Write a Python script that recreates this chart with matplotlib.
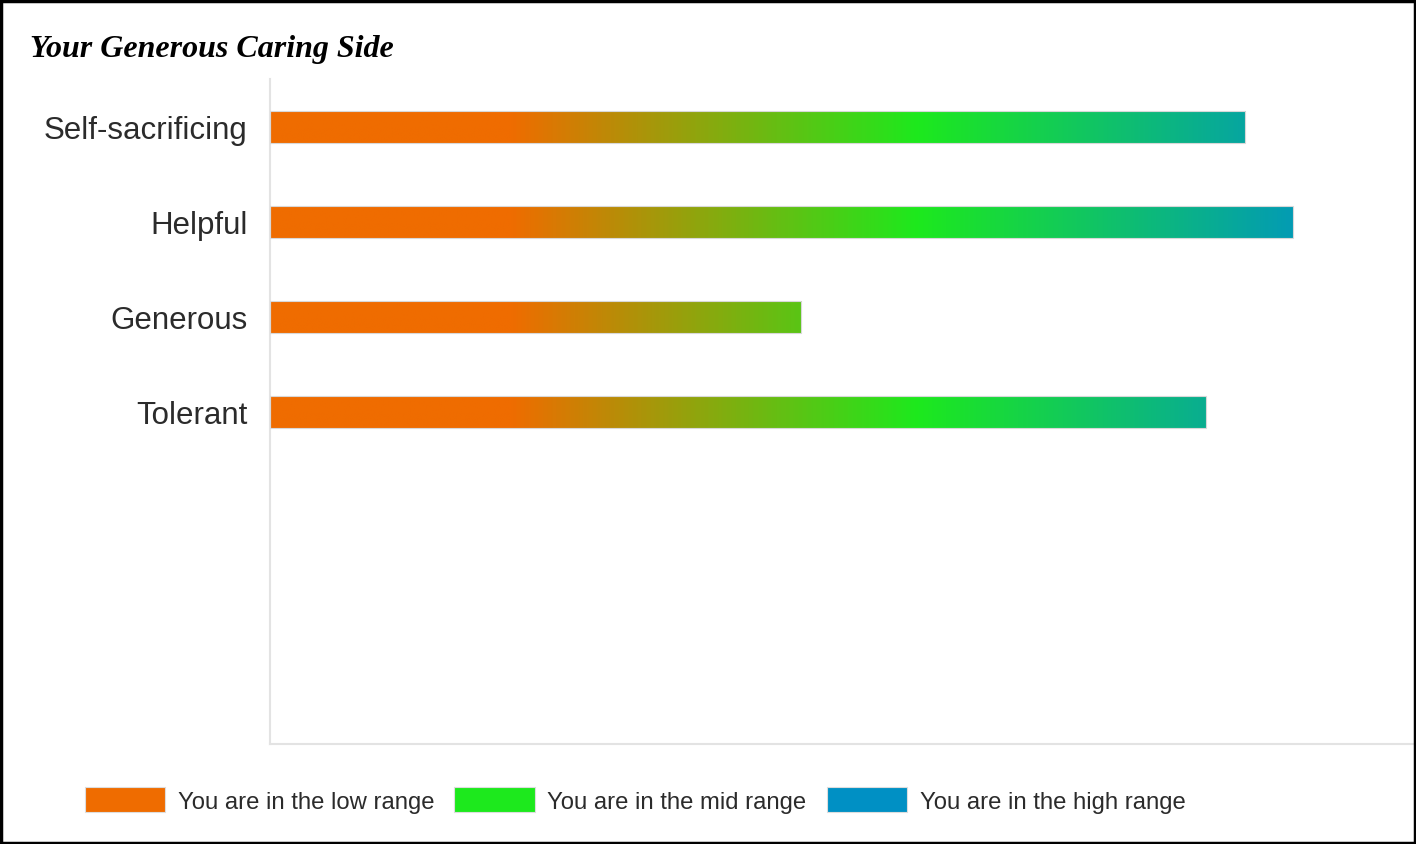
import matplotlib
matplotlib.use('Agg')
import matplotlib.pyplot as plt
import numpy as np
from matplotlib.colors import LinearSegmentedColormap
from matplotlib.patches import Patch, Rectangle

# data
traits = ['Self-sacrificing', 'Helpful', 'Generous', 'Tolerant']
scores = [86.3, 90.5, 47.0, 82.8]
legend_labels = ['You are in the low range', 'You are in the mid range', 'You are in the high range']
legend_colors = ['#ef6c00', '#1de91d', '#0090c4']

x_max = 101.4
n_slots = 7

cmap = LinearSegmentedColormap.from_list('range', [
    (0.0, '#ef6c00'), (0.21, '#ef6c00'), (0.565, '#1de91d'),
    (0.93, '#0093c4'), (1.0, '#0090c8')])

plt.rcParams['font.family'] = ['Liberation Sans', 'DejaVu Sans']

fig = plt.figure(figsize=(14.16, 8.45), dpi=100)
ax = fig.add_axes([270 / 1416, 1 - 745 / 845, 1 - 270 / 1416, 665 / 845])

gradient = np.linspace(0, 1, 512).reshape(1, -1)
bar_h = 0.337
bars = ax.barh(range(len(traits)), scores, height=bar_h, color='none',
               edgecolor='#d8d8d8', linewidth=0.8, zorder=3)
for b in bars:
    im = ax.imshow(gradient, cmap=cmap, aspect='auto', interpolation='bilinear',
                   extent=(0, x_max, b.get_y() + b.get_height(), b.get_y()),
                   zorder=2)
    im.set_clip_path(b)

ax.set_xlim(0, x_max)
ax.set_ylim(n_slots - 0.505, -0.505)
ax.set_yticks(range(len(traits)))
ax.set_yticklabels(traits, fontsize=22.5, color='#2b2b2b', va='center_baseline')
ax.tick_params(axis='y', length=0, pad=16)
ax.set_xticks([])
for s in ['top', 'right']:
    ax.spines[s].set_visible(False)
for s in ['left', 'bottom']:
    ax.spines[s].set_color('#e3e3e3')
    ax.spines[s].set_linewidth(1.5)

fig.text(30 / 1416, 1 - 49 / 845, 'Your Generous Caring Side', fontsize=23,
         fontweight='bold', fontstyle='italic', family='Liberation Serif',
         va='center', ha='left')

handles = [Patch(facecolor=c, edgecolor='#dddddd', linewidth=0.8) for c in legend_colors]
fig.legend(handles, legend_labels, loc='center left', ncol=3,
           bbox_to_anchor=(85 / 1416, 1 - 801 / 845), frameon=False,
           fontsize=17.2, handlelength=3.35, handleheight=1.2, handletextpad=0.54,
           columnspacing=0.84, borderpad=0, borderaxespad=0,
           labelcolor='#2b2b2b')

fig.patches.append(Rectangle((0.001, 0.001), 0.998, 0.997, transform=fig.transFigure,
                             fill=False, edgecolor='black', linewidth=2.5, zorder=10))

fig.savefig('out.png', dpi=100)
